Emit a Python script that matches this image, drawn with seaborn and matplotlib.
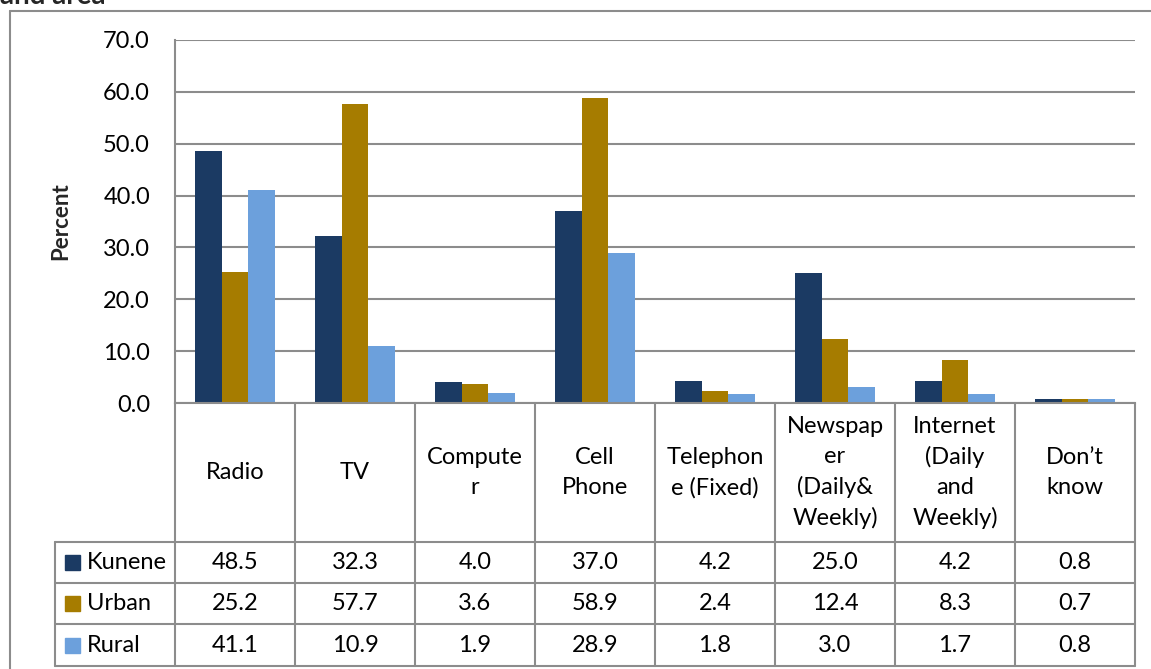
import matplotlib
matplotlib.use("Agg")
import matplotlib.pyplot as plt
import seaborn as sns
import pandas as pd
from matplotlib.lines import Line2D
from matplotlib.patches import Rectangle

categories = ["Radio", "TV", "Computer", "Cell Phone", "Telephone (Fixed)",
              "Newspaper (Daily& Weekly)", "Internet (Daily and Weekly)", "Don’t know"]
header_labels = ["Radio", "TV", "Compute\nr", "Cell\nPhone", "Telephon\ne (Fixed)",
                 "Newspap\ner\n(Daily&\nWeekly)", "Internet\n(Daily\nand\nWeekly)", "Don’t\nknow"]
series_names = ["Kunene", "Urban", "Rural"]
kunene = [48.5, 32.3, 4.0, 37.0, 4.2, 25.0, 4.2, 0.8]
urban = [25.2, 57.7, 3.6, 58.9, 2.4, 12.4, 8.3, 0.7]
rural = [41.1, 10.9, 1.9, 28.9, 1.8, 3.0, 1.7, 0.8]
colors = ["#1B3A63", "#A67C00", "#6CA0DC"]
yticks = [0, 10, 20, 30, 40, 50, 60, 70]

sns.set_theme(style="white")
plt.rcParams["font.family"] = ["Lato", "DejaVu Sans"]

W, H = 1151, 669
fig = plt.figure(figsize=(W / 100, H / 100), dpi=100)
fig.patch.set_facecolor("white")

x0, x1, ytop, ybot = 175, 1135, 40, 403
ax = fig.add_axes([x0 / W, 1 - ybot / H, (x1 - x0) / W, (ybot - ytop) / H])

rows = []
for name, vals in zip(series_names, [kunene, urban, rural]):
    for c, v in zip(categories, vals):
        rows.append({"Category": c, "Area": name, "Percent": v})
df = pd.DataFrame(rows)

sns.barplot(data=df, x="Category", y="Percent", hue="Area", order=categories,
            hue_order=series_names, palette=colors, width=0.667, saturation=1,
            linewidth=0, legend=False, ax=ax)

fs = 17
gcol = "#8C8C8C"
ax.set_xlim(-0.5, len(categories) - 0.5)
ax.set_ylim(0, 70)
ax.set_yticks(yticks)
ax.set_yticklabels([f"{t:.1f}" for t in yticks], fontsize=fs)
ax.set_xticks([])
ax.set_xlabel("")
ax.set_ylabel("Percent", fontsize=16, fontweight="bold")
ax.yaxis.set_label_coords(-(x0 - 71) / (x1 - x0), 0.5)
ax.tick_params(axis="y", length=0, pad=18, colors="black")
ax.yaxis.grid(True, color=gcol, linewidth=1.5)
ax.set_axisbelow(True)
for s in ["top", "right"]:
    ax.spines[s].set_visible(False)
for s in ["left", "bottom"]:
    ax.spines[s].set_color(gcol)
    ax.spines[s].set_linewidth(1.5)

# overlay for table and frame, in pixel coordinates
ov = fig.add_axes([0, 0, 1, 1], facecolor="none")
ov.set_xlim(0, W)
ov.set_ylim(H, 0)
ov.axis("off")

lw = 1.5
def line(xs, ys):
    ov.add_line(Line2D(xs, ys, color=gcol, linewidth=lw))

# outer frame
line([10, 10], [H, 11])
line([10, W], [11, 11])

col_edges = [x0 + 120 * i for i in range(len(categories) + 1)]
row_edges = [403, 542, 583, 624, 666]
for xe in col_edges:
    line([xe, xe], [403, 666])
line([55, 55], [542, 666])
for ye in row_edges[1:]:
    line([55, x1], [ye, ye])

centers = [(col_edges[i] + col_edges[i + 1]) / 2 for i in range(len(categories))]
for cx, lab in zip(centers, header_labels):
    ov.text(cx, (403 + 542) / 2, lab, ha="center", va="center", fontsize=fs,
            linespacing=1.5, color="black")

for r, (name, vals, col) in enumerate(zip(series_names, [kunene, urban, rural], colors)):
    yc = (row_edges[r + 1] + row_edges[r + 2]) / 2
    ov.add_patch(Rectangle((65, yc - 7.5), 15, 15, color=col))
    ov.text(87, yc, name, ha="left", va="center", fontsize=fs, color="black")
    for cx, v in zip(centers, vals):
        ov.text(cx, yc, f"{v:.1f}", ha="center", va="center", fontsize=fs, color="black")

ov.text(0, 4, "and area", ha="left", va="baseline", fontsize=20, fontweight="bold")

fig.savefig("out.png", dpi=100)
